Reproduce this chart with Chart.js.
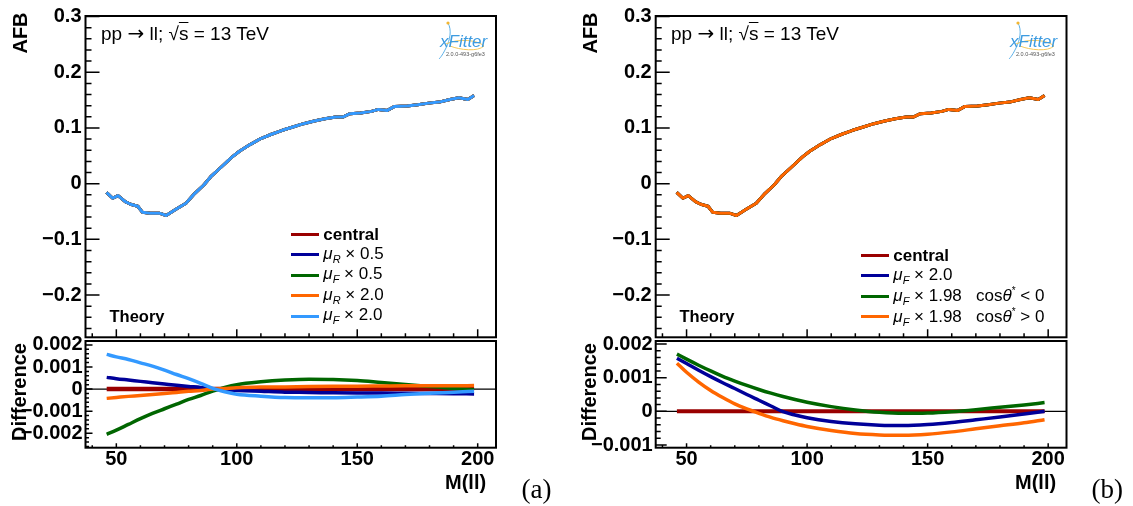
<!DOCTYPE html>
<html><head><meta charset="utf-8">
<script src="https://cdn.jsdelivr.net/npm/chart.js@4.4.1/dist/chart.umd.min.js"></script>
<style>
html,body{margin:0;padding:0;background:#fff;}
#wrap{position:relative;width:1133px;height:506px;overflow:hidden;font-family:"Liberation Sans",Arial,Helvetica,sans-serif;color:#000;}
canvas{position:absolute;left:0;top:0;}
svg{position:absolute;left:0;top:0;}
.t{position:absolute;white-space:nowrap;line-height:1;}
.rot{transform:translate(-50%,-50%) rotate(-90deg);font-weight:bold;font-size:20px;}
.vc{transform:translateY(-50%);}
.lg{position:absolute;white-space:nowrap;font-size:17px;line-height:1;}
.lg .sw{position:absolute;height:3px;}
.lg .tx{position:absolute;transform:translateY(-50%);}
sub{font-size:11px;vertical-align:-4px;}
sup{font-size:10px;vertical-align:7px;}
.serif{font-family:"Liberation Serif","DejaVu Serif",serif;}
.arr{font-family:"DejaVu Sans",sans-serif;font-size:20px;}
</style></head>
<body><div id="wrap">
<canvas id="cAt" width="1133" height="506"></canvas>
<canvas id="cAb" width="1133" height="506"></canvas>
<canvas id="cBt" width="1133" height="506"></canvas>
<canvas id="cBb" width="1133" height="506"></canvas>
</div>
<script>
// ---------------- data ----------------
const massAFB = [45.9,48.5,50.7,53.7,55.9,58.9,60.8,64.1,67.8,70.7,74.4,78.9,82.6,86.3,89.2,93.7,98.1,101.1,105.5,110.0,114.4,118.9,123.3,127.7,132.2,136.6,141.1,144.0,147.0,151.4,155.9,158.8,162.5,165.5,170.7,175.1,179.6,184.0,188.5,192.2,195.9,198.5];
const afbCentral = [-0.0155,-0.0262,-0.0214,-0.0321,-0.0369,-0.0405,-0.0512,-0.0530,-0.0530,-0.0571,-0.0470,-0.0351,-0.0173,-0.0024,0.0125,0.0304,0.0482,0.0583,0.0702,0.0810,0.0887,0.0958,0.1018,0.1077,0.1125,0.1167,0.1196,0.1196,0.1256,0.1268,0.1298,0.1333,0.1315,0.1387,0.1393,0.1417,0.1446,0.1464,0.1512,0.1542,0.1512,0.1583];

const massDiff = [46,50,55,60,65,70,75,80,85,90,95,100,110,120,130,140,150,160,170,180,190,198.5];
const diffCentral = [0,0,0,0,0,0,0,0,0,0,0,0,0,0,0,0,0,0,0,0,0,0];
// panel (a)
const diffA_muR05 = [0.00053,0.00047,0.00041,0.00035,0.00029,0.00023,0.00017,0.00012,0.000075,0.000015,-0.00003,-0.00006,-0.0001,-0.00014,-0.00015,-0.00017,-0.00018,-0.00018,-0.00019,-0.0002,-0.00021,-0.00022];
const diffA_muF05 = [-0.00205,-0.00186,-0.0016,-0.00134,-0.0011,-0.00089,-0.00068,-0.00047,-0.00029,-0.00009,0.000075,0.0002,0.00033,0.00041,0.00045,0.00044,0.00039,0.0003,0.00021,0.00012,0.00003,-0.00003];
const diffA_muR20 = [-0.00042,-0.00038,-0.00033,-0.00029,-0.00024,-0.0002,-0.00015,-0.0001,-0.00006,0,0.00003,0.00006,0.00009,0.0001,0.00012,0.00013,0.00013,0.00014,0.00015,0.00015,0.00015,0.00016];
const diffA_muF20 = [0.00157,0.00146,0.00134,0.00119,0.00104,0.00086,0.00066,0.00047,0.00026,0.00003,-0.00012,-0.00023,-0.00032,-0.00038,-0.00039,-0.00039,-0.00036,-0.00032,-0.00025,-0.00019,-0.00014,-0.0001];
// panel (b)
const diffB_muF20 = [0.00158,0.00142,0.00122,0.00103,0.00085,0.00068,0.0005,0.00033,0.00016,-0.00001,-0.00011,-0.00019,-0.0003,-0.00037,-0.00041,-0.00042,-0.00039,-0.00033,-0.00025,-0.00017,-0.00008,0.0];
const diffB_muF198neg = [0.0017,0.00155,0.00137,0.0012,0.00104,0.0009,0.00077,0.00065,0.00054,0.00044,0.00035,0.00027,0.00014,0.00004,-0.00003,-0.00006,-0.00005,-0.00001,0.00005,0.00012,0.00019,0.00026];
const diffB_muF198pos = [0.00143,0.00116,0.00087,0.00062,0.00041,0.00022,0.00007,-0.00006,-0.00018,-0.00028,-0.00037,-0.00045,-0.00057,-0.00066,-0.0007,-0.00071,-0.00068,-0.00061,-0.00052,-0.00043,-0.00034,-0.00025];

const labelsA = ['<b>central</b>','<i>μ</i><sub><i>R</i></sub> × 0.5','<i>μ</i><sub><i>F</i></sub> × 0.5','<i>μ</i><sub><i>R</i></sub> × 2.0','<i>μ</i><sub><i>F</i></sub> × 2.0'];
const labelsB = ['<b>central</b>','<i>μ</i><sub><i>F</i></sub> × 2.0','<i>μ</i><sub><i>F</i></sub> × 1.98 &nbsp; cos<i>θ</i><sup>*</sup> &lt; 0','<i>μ</i><sub><i>F</i></sub> × 1.98 &nbsp; cos<i>θ</i><sup>*</sup> &gt; 0'];

const xTickValues = [50,100,150,200];
const topYTicks = [-0.2,-0.1,0,0.1,0.2,0.3];
const botYTicksA = [-0.002,-0.001,0,0.001,0.002];
const botYTicksB = [-0.001,0,0.001,0.002];

// ---------------- styles ----------------
const C = {red:'#990000', blue:'#000099', green:'#006600', orange:'#ff6600', light:'#3399ff'};
const colorsA = [C.red, C.blue, C.green, C.orange, C.light];
const colorsB = [C.red, C.blue, C.green, C.orange];
const W = 1133, H = 506;
const X_MIN = 37.2, X_MAX = 207.6;
const Y_AXIS_W = 80, X_AXIS_H = 30;
const FONT = '"Liberation Sans", Arial, Helvetica, sans-serif';

const rootFrame = {
  id: 'rootFrame',
  beforeDatasetsDraw(chart, args, o) {
    if (!o.zeroLine) return;
    const {ctx, chartArea: a, scales: {y}} = chart;
    const py = y.getPixelForValue(0);
    ctx.save(); ctx.strokeStyle = '#000'; ctx.lineWidth = 1.2;
    ctx.beginPath(); ctx.moveTo(a.left, py); ctx.lineTo(a.right, py); ctx.stroke(); ctx.restore();
  },
  afterDraw(chart, args, o) {
    const {ctx, chartArea: a, scales: {x, y}} = chart;
    ctx.save(); ctx.strokeStyle = '#000'; ctx.lineWidth = 1.5;
    ctx.beginPath();
    const kx0 = Math.ceil(x.min / o.xMinor - 1e-9), kx1 = Math.floor(x.max / o.xMinor + 1e-9);
    for (let k = kx0; k <= kx1; k++) {
      const px = x.getPixelForValue(k * o.xMinor);
      const len = (k % o.xPer === 0) ? o.xMajLen : o.xMinLen;
      ctx.moveTo(px, a.bottom); ctx.lineTo(px, a.bottom - len);
    }
    const ky0 = Math.ceil(y.min / o.yMinor - 1e-9), ky1 = Math.floor(y.max / o.yMinor + 1e-9);
    for (let k = ky0; k <= ky1; k++) {
      const py = y.getPixelForValue(k * o.yMinor);
      const len = (((k % o.yPer) + o.yPer) % o.yPer === 0) ? o.yMajLen : o.yMinLen;
      ctx.moveTo(a.left, py); ctx.lineTo(a.left + len, py);
    }
    ctx.stroke();
    ctx.lineWidth = 2;
    ctx.strokeRect(a.left, a.top, a.right - a.left, a.bottom - a.top);
    ctx.restore();
  }
};

function ds(xs, ys, color, width, idx, n, smooth) {
  return {
    data: xs.map((m, i) => ({x: m, y: ys[i]})),
    borderColor: color, backgroundColor: color, borderWidth: width,
    pointRadius: 0, fill: false, order: n - 1 - idx,
    tension: smooth ? 0.4 : 0, cubicInterpolationMode: smooth ? 'monotone' : 'default',
    borderCapStyle: 'butt', borderJoinStyle: 'round'
  };
}

function panel(id, area, p) {
  return new Chart(document.getElementById(id), {
    type: 'line',
    data: {datasets: p.datasets},
    options: {
      responsive: false, animation: false, devicePixelRatio: 1,
      layout: {padding: {left: area.l - Y_AXIS_W, top: area.t, right: W - area.r, bottom: H - area.b - X_AXIS_H}},
      plugins: {legend: {display: false}, tooltip: {enabled: false}, rootFrame: p.frame},
      scales: {
        x: {
          type: 'linear', min: X_MIN, max: X_MAX,
          grid: {display: false, drawTicks: false}, border: {display: false},
          ticks: {display: p.xLabels, autoSkip: false, maxRotation: 0, minRotation: 0, padding: 0, color: '#000',
                  font: {family: FONT, size: 20, weight: 'bold'}},
          afterBuildTicks: s => { s.ticks = xTickValues.map(v => ({value: v})); },
          afterFit: s => { s.height = X_AXIS_H; }
        },
        y: {
          type: 'linear', min: p.yMin, max: p.yMax,
          grid: {display: false, drawTicks: false}, border: {display: false},
          ticks: {autoSkip: false, padding: p.yPad, color: '#000',
                  font: {family: FONT, size: 20, weight: 'bold'},
                  callback: p.fmt},
          afterBuildTicks: s => { s.ticks = p.yTicks.map(v => ({value: v})); },
          afterFit: s => { s.width = Y_AXIS_W; }
        }
      }
    },
    plugins: [rootFrame]
  });
}

const fmtTop = v => Math.abs(v) < 1e-12 ? '0' : (v < 0 ? '\u2212' : '') + Math.abs(v).toFixed(1);
const fmtBot = v => Math.abs(v) < 1e-12 ? '0' : (v < 0 ? '\u2212' : '') + Math.abs(v).toFixed(3);

const topFrame = {xMinor: 10, xPer: 5, xMajLen: 8, xMinLen: 4, yMinor: 0.02, yPer: 5, yMajLen: 14, yMinLen: 6, zeroLine: false};

// top (a)
panel('cAt', {l: 85.5, t: 14, r: 496, b: 337.3}, {
  datasets: colorsA.map((c, i) => ds(massAFB, afbCentral, c, 3, i, colorsA.length, false)),
  xLabels: false, yMin: -0.2758, yMax: 0.301, yTicks: topYTicks, fmt: fmtTop, yPad: 4, frame: topFrame
});
// bottom (a)
const seriesA = [diffCentral, diffA_muR05, diffA_muF05, diffA_muR20, diffA_muF20];
panel('cAb', {l: 85.5, t: 341, r: 496, b: 447.7}, {
  datasets: seriesA.map((s, i) => ds(massDiff, s, colorsA[i], i === 0 ? 4.5 : 3.5, i, seriesA.length, true)),
  xLabels: true, yMin: -0.002654, yMax: 0.002178, yTicks: botYTicksA, fmt: fmtBot, yPad: 3,
  frame: {xMinor: 10, xPer: 5, xMajLen: 4.5, xMinLen: 2.5, yMinor: 0.0002, yPer: 5, yMajLen: 7, yMinLen: 3.5, zeroLine: true}
});
// top (b)
panel('cBt', {l: 655.7, t: 14, r: 1066.5, b: 337.3}, {
  datasets: colorsB.map((c, i) => ds(massAFB, afbCentral, c, 3, i, colorsB.length, false)),
  xLabels: false, yMin: -0.2758, yMax: 0.301, yTicks: topYTicks, fmt: fmtTop, yPad: 4, frame: topFrame
});
// bottom (b)
const seriesB = [diffCentral, diffB_muF20, diffB_muF198neg, diffB_muF198pos];
panel('cBb', {l: 655.7, t: 341, r: 1066.5, b: 447.7}, {
  datasets: seriesB.map((s, i) => ds(massDiff, s, colorsB[i], i === 0 ? 4 : 3.5, i, seriesB.length, true)),
  xLabels: true, yMin: -0.00108, yMax: 0.00209, yTicks: botYTicksB, fmt: fmtBot, yPad: 3,
  frame: {xMinor: 10, xPer: 5, xMajLen: 4.5, xMinLen: 2.5, yMinor: 0.0002, yPer: 5, yMajLen: 11, yMinLen: 5, zeroLine: true}
});

// ---------------- text overlays ----------------
const wrap = document.getElementById('wrap');
function addText(html, cls, style) {
  const d = document.createElement('div');
  d.className = 't ' + cls; d.innerHTML = html;
  Object.assign(d.style, style); wrap.appendChild(d); return d;
}
function legend(x0, yFirst, colors, labels) {
  const box = document.createElement('div'); box.className = 'lg';
  box.style.left = '0px'; box.style.top = '0px';
  labels.forEach((lab, i) => {
    const yc = yFirst + i * 20.6;
    const sw = document.createElement('div'); sw.className = 'sw';
    Object.assign(sw.style, {left: x0 + 'px', top: (yc - 1.5) + 'px', width: '28.6px', background: colors[i]});
    const tx = document.createElement('div'); tx.className = 'tx'; tx.innerHTML = lab;
    Object.assign(tx.style, {left: (x0 + 32.6) + 'px', top: yc + 'px'});
    box.appendChild(sw); box.appendChild(tx);
  });
  wrap.appendChild(box);
}
const svgNS = 'http://www.w3.org/2000/svg';
const svg = document.createElementNS(svgNS, 'svg');
svg.setAttribute('width', W); svg.setAttribute('height', H);
wrap.appendChild(svg);
[0, 570].forEach((dx, k) => {
  addText('AFB', 'rot', {left: (20 + dx) + 'px', top: '33px'});
  addText('Difference', 'rot', {left: (19 + dx) + 'px', top: '392px'});
  addText('M(ll)', 'vc', {left: (445 + dx) + 'px', top: '482px', fontWeight: 'bold', fontSize: '20px'});
  addText(k === 0 ? '(a)' : '(b)', 'vc serif', {left: (521.5 + dx) + 'px', top: '489px', fontSize: '27px'});
  addText('pp <span class="arr">→</span> ll; √<span style="text-decoration:overline">s</span> = 13 TeV', 'vc', {left: (101 + dx) + 'px', top: '33px', fontSize: '19px'});
  addText('Theory', 'vc', {left: (109.5 + dx) + 'px', top: '316px', fontSize: '16.5px', fontWeight: 'bold'});
  // xFitter logo decoration
  const p1 = document.createElementNS(svgNS, 'path');
  p1.setAttribute('d', `M${448+dx},23 C${452+dx},30 ${450+dx},40 ${446+dx},48 C${443+dx},54 ${441+dx},57 ${439+dx},59`);
  p1.setAttribute('stroke', '#5ab0e8'); p1.setAttribute('fill', 'none'); p1.setAttribute('stroke-width', '1');
  svg.appendChild(p1);
  const p2 = document.createElementNS(svgNS, 'path');
  p2.setAttribute('d', `M${446+dx},44 C${458+dx},38 ${478+dx},40 ${484+dx},46 C${478+dx},52 ${460+dx},50 ${450+dx},46`);
  p2.setAttribute('stroke', '#f5c85a'); p2.setAttribute('fill', 'none'); p2.setAttribute('stroke-width', '1');
  svg.appendChild(p2);
  const c1 = document.createElementNS(svgNS, 'circle');
  c1.setAttribute('cx', 448 + dx); c1.setAttribute('cy', 23); c1.setAttribute('r', 1.6); c1.setAttribute('fill', '#f2b632');
  svg.appendChild(c1);
  addText('xFitter', 'vc', {left: (440 + dx) + 'px', top: '41px', fontSize: '17px', fontStyle: 'italic', color: '#3d9be0'});
  addText('2.0.0-493-g6fe3', 'vc', {left: (446 + dx) + 'px', top: '55px', fontSize: '5.5px', color: '#555'});
});
legend(290.7, 234, colorsA, labelsA);
legend(860.7, 255, colorsB, labelsB);
</script>
</body></html>
